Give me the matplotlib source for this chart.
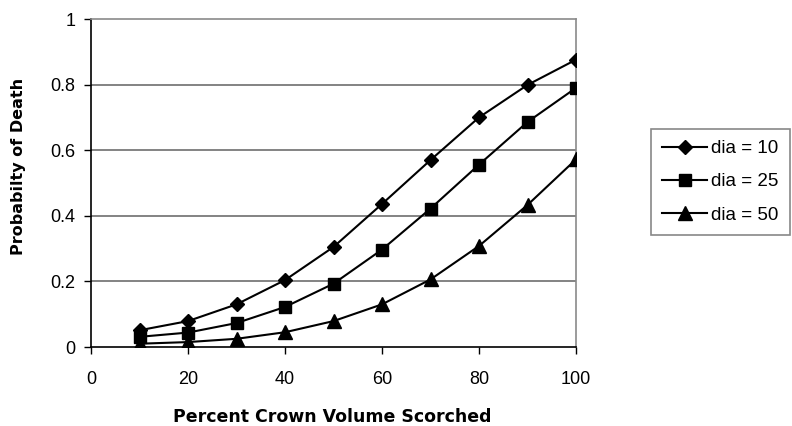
import matplotlib.pyplot as plt

# Percent crown volume scorched
pcvs = [10, 20, 30, 40, 50, 60, 70, 80, 90, 100]

# Probability of death for three stem diameters
dia_10 = [0.051, 0.079, 0.130, 0.204, 0.305, 0.436, 0.570, 0.700, 0.799, 0.876]
dia_25 = [0.031, 0.044, 0.073, 0.122, 0.193, 0.297, 0.422, 0.556, 0.686, 0.790]
dia_50 = [0.010, 0.015, 0.025, 0.045, 0.079, 0.130, 0.206, 0.308, 0.433, 0.572]

x_ticks = [0, 20, 40, 60, 80, 100]
y_ticks = [0, 0.2, 0.4, 0.6, 0.8, 1]
y_tick_labels = ['0', '0.2', '0.4', '0.6', '0.8', '1']

plt.rcParams['font.family'] = ['Liberation Sans', 'DejaVu Sans']

fig = plt.figure(figsize=(7.92, 4.26), dpi=100)
ax = fig.add_axes([91 / 792, 1 - 347 / 426, (576 - 91) / 792, (347 - 19) / 426])

# gridlines
for yv in y_ticks[1:-1]:
    ax.axhline(yv, color='#6e6e6e', lw=1.2, zorder=1)

ax.plot(pcvs, dia_10, color='black', lw=1.5, marker='D', ms=7.5, label='dia = 10', zorder=3)
ax.plot(pcvs, dia_25, color='black', lw=1.5, marker='s', ms=8.5, label='dia = 25', zorder=3)
ax.plot(pcvs, dia_50, color='black', lw=1.5, marker='^', ms=9.5, label='dia = 50', zorder=3)

ax.set_xlim(0, 100)
ax.set_ylim(0, 1)
ax.set_xticks(x_ticks)
ax.set_yticks(y_ticks)
ax.set_yticklabels(y_tick_labels)
ax.tick_params(axis='both', direction='out', length=5, width=1, labelsize=13, colors='black')
ax.tick_params(axis='x', pad=12)
ax.tick_params(axis='y', pad=6)

ax.spines['left'].set_color('black')
ax.spines['bottom'].set_color('black')
ax.spines['top'].set_color('#8a8a8a')
ax.spines['right'].set_color('#8a8a8a')
for s in ax.spines.values():
    s.set_linewidth(1.2)

ax.set_xlabel('Percent Crown Volume Scorched', family='DejaVu Sans', fontweight='bold',
              fontsize=12.5)
ax.set_ylabel('Probabilty of Death', family='DejaVu Sans', fontweight='bold',
              fontsize=11.5)
ax.xaxis.set_label_coords(0.497, -0.185)
ax.yaxis.set_label_coords(-0.133, 0.55)

leg = fig.legend(loc='upper left', bbox_to_anchor=(651 / 792, 1 - 129 / 426),
                 fontsize=13.5, frameon=True, fancybox=False, handlelength=2.4,
                 handletextpad=0.2, labelspacing=0.85, borderpad=0.6, borderaxespad=0)
leg.get_frame().set_edgecolor('#6a6a6a')
leg.get_frame().set_linewidth(1.2)

plt.savefig('out.png', dpi=100)
plt.close()
